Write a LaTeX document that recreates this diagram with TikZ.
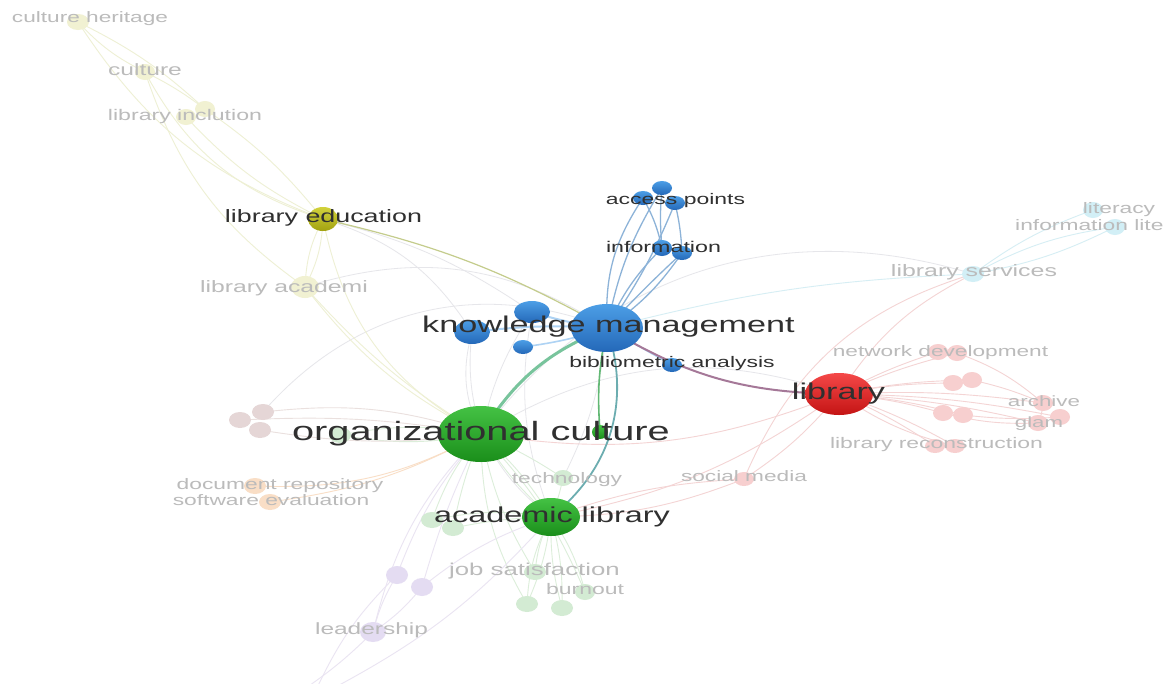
\documentclass[tikz,border=0pt]{standalone}
\usepackage{fontspec}
\setmainfont{Liberation Sans}
\usepackage{graphicx}
\definecolor{txtdark}{HTML}{303030}
\definecolor{txtfaint}{HTML}{BBBBBB}
\definecolor{eyel}{HTML}{EEF0D4}
\definecolor{egray}{HTML}{E6E6EA}
\definecolor{egreen}{HTML}{DCEEDA}
\definecolor{eblue}{HTML}{8DB3D8}
\definecolor{epink}{HTML}{F4D4D4}
\definecolor{elblue}{HTML}{D6EEF4}
\definecolor{epurp}{HTML}{EAE4F2}
\definecolor{ebrown}{HTML}{EAE0DE}
\definecolor{cyelF}{HTML}{F1F1D2}
\definecolor{cblueF}{HTML}{D2EFF6}
\definecolor{cpinkF}{HTML}{F7CFCF}
\definecolor{cgreenF}{HTML}{D3EBD3}
\definecolor{cbrownF}{HTML}{E5D6D6}
\definecolor{corgF}{HTML}{F9DEC6}
\definecolor{cpurpF}{HTML}{E4DCF2}
\definecolor{blueA}{HTML}{4C9EE6}
\definecolor{blueB}{HTML}{2468B8}
\definecolor{greenA}{HTML}{44C244}
\definecolor{greenB}{HTML}{1A8E1A}
\definecolor{redA}{HTML}{F44848}
\definecolor{redB}{HTML}{C41414}
\definecolor{eduA}{HTML}{D2D23C}
\definecolor{eduB}{HTML}{A2A210}
\definecolor{kmoc}{HTML}{78C49C}
\definecolor{kmal}{HTML}{6CADB0}
\definecolor{kmg}{HTML}{62B874}
\definecolor{kmlib}{HTML}{A57898}
\definecolor{kmedu}{HTML}{C4CC8C}
\newcommand{\lbl}[2]{\scalebox{1.5}[1]{\fontsize{#1}{#1}\selectfont #2}}
\newcommand{\blob}[4]{\fill[#1] (#2) ellipse [x radius=#3pt, y radius=#4pt];}
\newcommand{\sblob}[5]{\shade[top color=#1, bottom color=#2] (#3) ellipse [x radius=#4pt, y radius=#5pt];}
\tikzset{
  lab/.style={inner sep=0pt, text=txtdark, anchor=base},
  flab/.style={inner sep=0pt, text=txtfaint, anchor=base},
  ey/.style={draw=eyel, line width=0.9pt},
  eg/.style={draw=egray, line width=0.8pt},
  egr/.style={draw=egreen, line width=0.9pt},
  eb/.style={draw=eblue, line width=1.3pt},
  ep/.style={draw=epink, line width=0.9pt},
  elb/.style={draw=elblue, line width=0.9pt},
  epu/.style={draw=epurp, line width=0.9pt},
  ebr/.style={draw=ebrown, line width=0.9pt}
}
\begin{document}
\begin{tikzpicture}[x=1pt,y=-1pt]
\useasboundingbox (0,0) rectangle (1169,683);
\fill[white] (0,0) rectangle (1169,683);
% coordinates of items
\coordinate (ch) at (78,22);
\coordinate (cul) at (145,72);
\coordinate (inc1) at (205,109);
\coordinate (inc2) at (186,117);
\coordinate (edu) at (323,219);
\coordinate (aca) at (305,287);
\coordinate (ap1) at (662,188);
\coordinate (ap2) at (643,198);
\coordinate (ap3) at (675,203);
\coordinate (in1) at (662,248);
\coordinate (in2) at (682,253);
\coordinate (km) at (607,328);
\coordinate (kb1) at (532,312);
\coordinate (kb2) at (472,332);
\coordinate (kb3) at (523,347);
\coordinate (bib) at (672,365);
\coordinate (lib) at (839,394);
\coordinate (nd1) at (938,352);
\coordinate (nd2) at (957,353);
\coordinate (p1) at (953,383);
\coordinate (p2) at (972,380);
\coordinate (p3) at (943,413);
\coordinate (p4) at (963,415);
\coordinate (arc) at (1043,403);
\coordinate (gl1) at (1060,417);
\coordinate (gl2) at (1038,423);
\coordinate (rc1) at (935,446);
\coordinate (rc2) at (955,446);
\coordinate (sm) at (744,479);
\coordinate (ls) at (973,274);
\coordinate (lit) at (1093,210);
\coordinate (il) at (1115,227);
\coordinate (oc) at (481,434);
\coordinate (g1) at (600,432);
\coordinate (br1) at (263,412);
\coordinate (br2) at (240,420);
\coordinate (br3) at (260,430);
\coordinate (lg0) at (340,435);
\coordinate (dr) at (255,486);
\coordinate (se) at (270,502);
\coordinate (tech) at (563,478);
\coordinate (al) at (551,517);
\coordinate (ag1) at (432,520);
\coordinate (ag2) at (453,528);
\coordinate (js) at (535,572);
\coordinate (bo) at (585,592);
\coordinate (jn1) at (527,604);
\coordinate (jn2) at (562,608);
\coordinate (pu1) at (397,575);
\coordinate (pu2) at (422,587);
\coordinate (lead) at (373,632);
\coordinate (bt1) at (303,690);
\coordinate (bt2) at (316,690);
\coordinate (bt3) at (330,690);
% ---- faint gray edges
\draw[eg] (oc) to[bend left=25] (lib);
\draw[eg] (oc) to[bend left=35] (ls);
\draw[eg] (kb2) to[bend right=20] (oc);
\draw[eg] (kb1) to[bend right=10] (oc);
\draw[eg] (kb2) to[bend right=30] (al);
\draw[eg] (kb1) to[bend right=15] (al);
\draw[eg] (km) to[bend right=35] (br1);
\draw[eg] (edu) to[bend left=20] (kb2);
\draw[eg] (edu) to[bend left=10] (kb1);
\draw[eg] (km) to[bend left=10] (tech);
\draw[eg] (aca) to[bend left=25] (km);
% ---- yellow cluster edges
\draw[ey] (ch) to[bend right=10] (cul);
\draw[ey] (ch) to[bend left=8] (inc1);
\draw[ey] (ch) to[bend right=18] (edu);
\draw[ey] (cul) to[bend left=5] (inc1);
\draw[ey] (cul) to[bend right=22] (edu);
\draw[ey] (cul) to[bend right=18] (aca);
\draw[ey] (inc1) to[bend left=8] (edu);
\draw[ey] (inc2) to[bend right=10] (edu);
\draw[ey] (edu) to[bend right=12] (aca);
\draw[ey] (edu) to[bend left=12] (aca);
\draw[ey] (aca) to[bend right=12] (oc);
\draw[ey] (edu) to[bend right=25] (oc);
\draw[ey] (aca) to[bend right=8] (oc);
\draw[draw=kmedu, line width=1.2pt] (edu) to[bend left=8] (km);
% ---- light blue cluster edges
\draw[elb] (ls) to[bend left=8] (lit);
\draw[elb] (ls) to[bend right=8] (il);
\draw[elb] (ls) to[bend left=10] (il);
\draw[elb] (ls) to[bend right=6] (km);
\draw[ep] (ls) to[bend right=15] (lib);
\draw[ep] (ls) to[bend right=25] (sm);
% ---- red cluster edges
\foreach \t in {nd1,nd2,p1,p2,p3,p4,arc,gl1,gl2,rc1,rc2}{\draw[ep] (lib) to[bend left=5] (\t);}
\draw[ep] (lib) to[bend left=8] (sm);
\draw[ep] (nd2) to[bend left=10] (arc);
\draw[ep] (p2) to[bend left=5] (arc);
\draw[ep] (p4) to[bend right=5] (gl1);
\draw[ep] (p3) to[bend right=8] (gl2);
\draw[ep] (arc) to[bend left=10] (gl2);
\draw[ep] (lib) to[bend right=10] (rc2);
\draw[ep] (sm) to[bend left=10] (al);
\draw[ep] (sm) to[bend right=8] (al);
\draw[ep] (lib) to[bend left=15] (oc);
\draw[ep] (lib) to[bend left=12] (al);
% ---- green cluster edges
\draw[egr] (oc) to[bend left=8] (al);
\draw[egr] (oc) to[bend right=8] (al);
\draw[egr] (oc) to[bend left=5] (tech);
\draw[egr] (tech) to[bend left=5] (al);
\draw[egr] (oc) to[bend right=10] (ag1);
\draw[egr] (oc) to[bend right=5] (ag2);
\draw[egr] (oc) to[bend right=10] (js);
\draw[egr] (oc) to[bend left=10] (bo);
\draw[egr] (oc) to[bend right=15] (jn1);
\draw[egr] (al) to[bend right=10] (js);
\draw[egr] (al) to[bend right=12] (jn1);
\draw[egr] (al) to[bend left=8] (jn1);
\draw[egr] (al) to[bend left=8] (jn2);
\draw[egr] (al) to[bend right=8] (jn2);
\draw[egr] (al) to[bend left=10] (bo);
\draw[egr] (al) to[bend right=10] (ag1);
\draw[egr] (ag2) to[bend left=5] (al);
\draw[egr] (oc) to[bend left=10] (lg0);
\draw[egr] (oc) to[bend right=10] (lg0);
\draw[ebr] (oc) to[bend right=12] (br1);
\draw[ebr] (oc) to[bend left=8] (br3);
\draw[ebr] (oc) to[bend right=6] (br2);
\draw[draw=corgF, line width=0.9pt] (oc) to[bend left=15] (dr);
\draw[draw=corgF, line width=0.9pt] (oc) to[bend left=10] (se);
% ---- purple cluster edges
\draw[epu] (oc) to[bend right=10] (pu1);
\draw[epu] (oc) to[bend right=5] (pu2);
\draw[epu] (oc) to[bend right=15] (lead);
\draw[epu] (pu1) to[bend right=8] (lead);
\draw[epu] (pu2) to[bend left=8] (lead);
\draw[epu] (lead) to[bend left=5] (bt1);
\draw[epu] (pu1) to[bend right=10] (bt2);
\draw[epu] (al) to[bend left=10] (bt3);
\draw[epu] (al) to[bend right=10] (pu2);
% ---- blue cluster edges
\draw[eb] (km) to[bend left=10] (ap1);
\draw[eb] (km) to[bend left=18] (ap2);
\draw[eb] (km) to[bend right=6] (ap3);
\draw[eb] (km) to[bend left=10] (in1);
\draw[eb] (km) to[bend right=10] (in2);
\draw[eb] (km) to[bend left=2] (in2);
\draw[eb] (ap2) to[bend left=8] (in1);
\draw[eb] (ap3) to[bend left=5] (in2);
\draw[eb] (ap1) to[bend right=5] (in1);
\draw[draw=blueA!45, line width=2pt] (km) to[bend left=5] (kb1);
\draw[draw=blueA!45, line width=2pt] (km) to[bend right=5] (kb2);
\draw[draw=blueA!45, line width=1.6pt] (km) to[bend left=5] (kb3);
\draw[draw=blueA!45, line width=1.6pt] (km) to (bib);
% ---- strong links
\draw[draw=kmoc, line width=3pt] (km) to[bend right=18] (oc);
\draw[draw=kmal, line width=1.8pt] (km) to[bend left=35] (al);
\draw[draw=kmg, line width=1.6pt] (km) to[bend right=8] (g1);
\draw[draw=kmlib, line width=2pt] (km) to[bend right=15] (lib);
% ---- circles
\blob{cyelF}{ch}{11}{8}
\blob{cyelF}{cul}{10}{8}
\blob{cyelF}{inc1}{10}{8}
\blob{cyelF}{inc2}{10}{8}
\blob{cyelF}{aca}{14}{11}
\sblob{eduA}{eduB}{edu}{15}{12}
\sblob{blueA}{blueB}{ap1}{10}{7}
\sblob{blueA}{blueB}{ap2}{10}{7}
\sblob{blueA}{blueB}{ap3}{10}{7}
\sblob{blueA}{blueB}{in1}{10}{8}
\sblob{blueA}{blueB}{in2}{10}{7}
\sblob{blueA}{blueB}{kb1}{18}{11}
\sblob{blueA}{blueB}{kb2}{18}{12}
\sblob{blueA}{blueB}{kb3}{10}{7}
\sblob{blueA}{blueB}{bib}{10}{7}
\sblob{blueA}{blueB}{km}{36}{24}
\foreach \t in {nd1,nd2,p1,p2,p3,p4,arc,gl1,gl2}{\blob{cpinkF}{\t}{10}{8}}
\blob{cpinkF}{rc1}{10}{7}
\blob{cpinkF}{rc2}{10}{7}
\blob{cpinkF}{sm}{10}{7}
\sblob{redA}{redB}{lib}{34}{21}
\blob{cblueF}{ls}{11}{8}
\blob{cblueF}{lit}{10}{8}
\blob{cblueF}{il}{10}{8}
\blob{cbrownF}{br1}{11}{8}
\blob{cbrownF}{br2}{11}{8}
\blob{cbrownF}{br3}{11}{8}
\blob{cgreenF}{lg0}{11}{8}
\blob{corgF}{dr}{11}{8}
\blob{corgF}{se}{11}{8}
\blob{cgreenF}{tech}{10}{8}
\blob{cgreenF}{ag1}{11}{8}
\blob{cgreenF}{ag2}{11}{8}
\blob{cgreenF}{js}{11}{8}
\blob{cgreenF}{bo}{10}{8}
\blob{cgreenF}{jn1}{11}{8}
\blob{cgreenF}{jn2}{11}{8}
\blob{cpurpF}{pu1}{11}{9}
\blob{cpurpF}{pu2}{11}{9}
\blob{cpurpF}{lead}{13}{10}
\sblob{greenA}{greenB}{oc}{43}{28}
\sblob{greenA}{greenB}{al}{29}{19}
\sblob{greenA}{greenB}{g1}{8}{7}
% ---- labels
\node[flab] (tch) at (90,22) {\lbl{15.1}{culture heritage}};
\node[flab] (tcul) at (145,75) {\lbl{16.4}{culture}};
\node[flab] (tinc) at (185,120) {\lbl{15.4}{library inclution}};
\node[lab] (tedu) at (323.5,222) {\lbl{17.9}{library education}};
\node[flab] (taca) at (284,292) {\lbl{16.5}{library academi}};
\node[lab] (tap) at (675.5,204) {\lbl{15.3}{access points}};
\node[lab] (tin) at (663.5,252) {\lbl{15.5}{information}};
\node[lab] (tkm) at (608.5,332) {\lbl{22.8}{knowledge management}};
\node[lab] (tbib) at (672,367) {\lbl{15.3}{bibliometric analysis}};
\node[lab] (tlib) at (838.5,399) {\lbl{22.8}{library}};
\node[flab] (tnd) at (940.5,356) {\lbl{15.1}{network development}};
\node[flab] (tarc) at (1044,406) {\lbl{14.9}{archive}};
\node[flab] (tgl) at (1039,427) {\lbl{14.8}{glam}};
\node[flab] (trc) at (936.5,448) {\lbl{15.3}{library reconstruction}};
\node[flab] (tlit) at (1119,213) {\lbl{15.2}{literacy}};
\node[flab, anchor=base west] (til) at (1015,230) {\lbl{15.2}{information lite}};
\node[flab] (tls) at (974,276) {\lbl{16.6}{library services}};
\node[lab] (toc) at (481,440) {\lbl{26.5}{organizational culture}};
\node[flab] (tdr) at (280,489) {\lbl{15.2}{document repository}};
\node[flab] (tse) at (271,505) {\lbl{15.2}{software evaluation}};
\node[flab] (ttech) at (567,483) {\lbl{15.2}{technology}};
\node[lab] (tal) at (552,522) {\lbl{21.6}{academic library}};
\node[flab] (tjs) at (534.5,575) {\lbl{17.2}{job satisfaction}};
\node[flab] (tbo) at (585,594) {\lbl{15.3}{burnout}};
\node[flab] (tlead) at (371.5,634) {\lbl{16.3}{leadership}};
\node[flab] (tsm) at (744,481) {\lbl{15.1}{social media}};
\end{tikzpicture}
\end{document}
